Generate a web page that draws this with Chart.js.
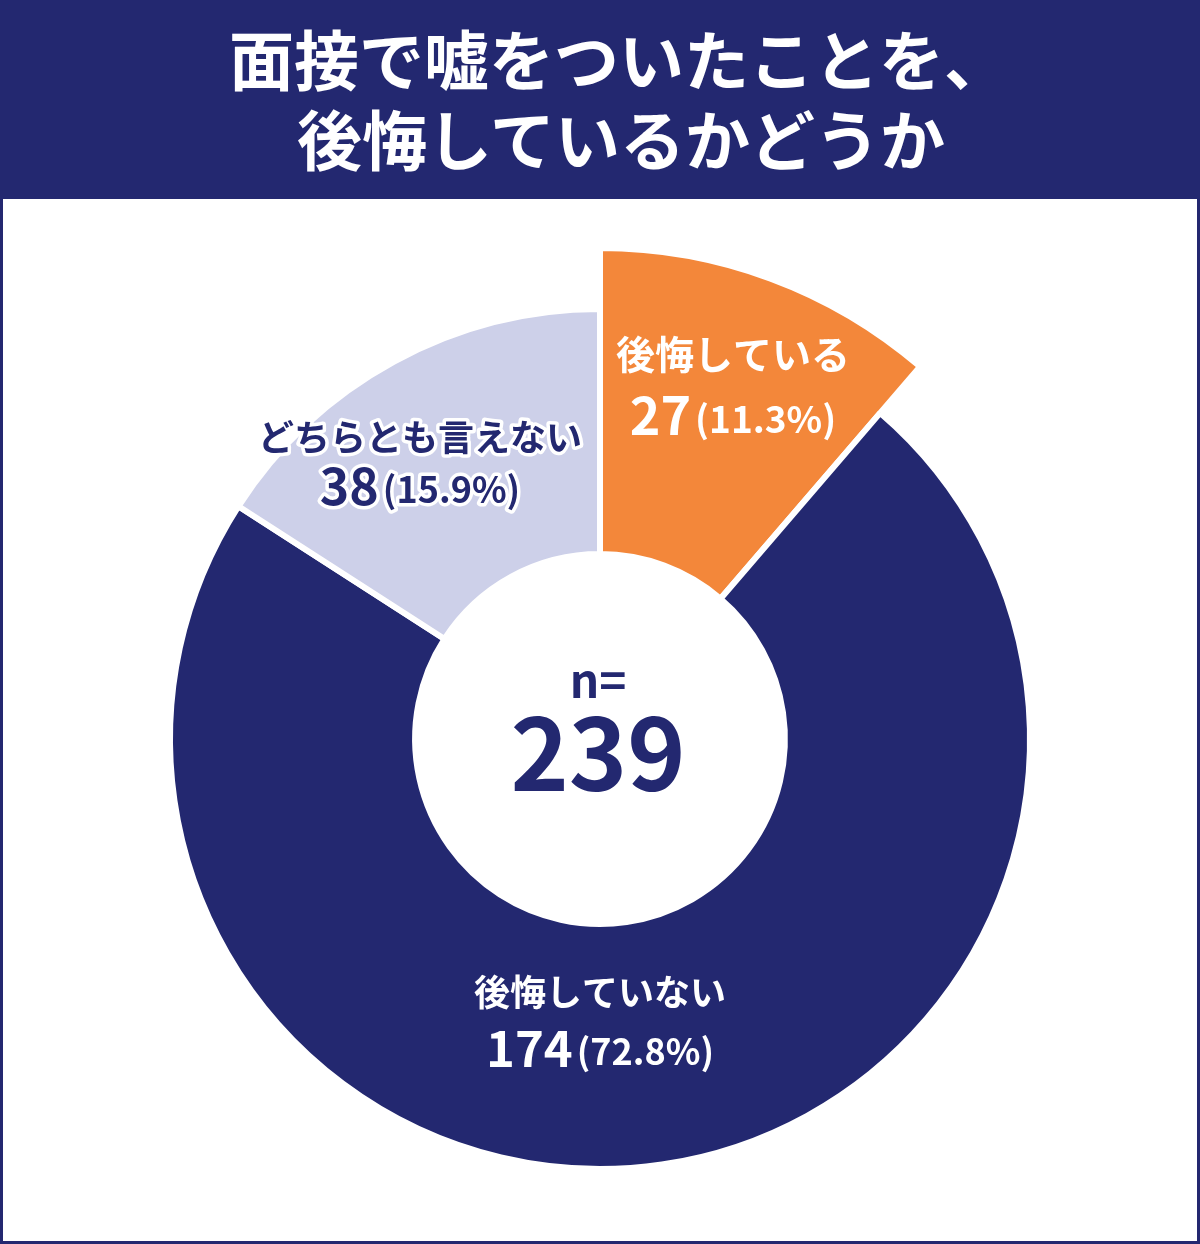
<!DOCTYPE html>
<html lang="ja">
<head>
<meta charset="utf-8">
<title>面接で嘘をついたことを、後悔しているかどうか</title>
<script src="https://cdn.jsdelivr.net/npm/chart.js@4.4.1/dist/chart.umd.min.js"></script>
<style>
  html, body { margin: 0; padding: 0; background: #fff; }
  .frame {
    position: relative; width: 1200px; height: 1244px; box-sizing: border-box;
    border: 3px solid #232870; background: #fff; overflow: hidden;
    font-family: "Noto Sans CJK JP", "Noto Sans", sans-serif;
  }
  .title {
    position: absolute; left: 0; top: 0; width: 100%; height: 196px;
    background: #232870; color: #fff; font-weight: 700; font-size: 65px; line-height: 65px;
  }
  .title div { position: absolute; white-space: nowrap; }
  #donut { position: absolute; left: 0; top: 0; }
</style>
</head>
<body>
<div class="frame">
  <div class="title">
    <div style="left:226px; top:22px;">面接で嘘をついたことを、</div>
    <div style="left:294px; top:102px;">後悔しているかどうか</div>
  </div>
  <canvas id="donut" width="1194" height="1238"></canvas>
</div>
<script>
const categories = ["後悔している", "後悔していない", "どちらとも言えない"];
const counts = [27, 174, 38];
const percents = ["11.3%", "72.8%", "15.9%"];
const sampleSize = "239";

const navy = "#232870";
const sliceColors = ["#F3873A", navy, "#CDD0E9"];
const font = '"Noto Sans CJK JP", "Noto Sans", sans-serif';

// where each label sits, relative to the centre of the ring
const labelSpots = [
  { dx: 133, nameY: -370, valueY: -304, nameSize: 39, numSize: 52, pctSize: 37, color: "#fff" },
  { dx: 0, nameY: 267, valueY: 328, nameSize: 36, numSize: 49, pctSize: 36, color: "#fff" },
  { dx: -180, nameY: -288, valueY: -234, nameSize: 36, numSize: 50, pctSize: 36, color: navy, outline: true },
];

/**
 * The first slice (後悔している) sticks out further than the rest of the ring
 */
const bigSlice = {
  id: "bigSlice",
  afterDatasetsUpdate(chart) {
    const arc = chart.getDatasetMeta(0).data[0];
    arc.outerRadius = arc.outerRadius + 61;
  },
};

/**
 * Draw one line of text, with an optional white outline
 */
function putText(ctx, text, x, y, size, color, outline) {
  ctx.font = `700 ${size}px ${font}`;
  if (outline) {
    ctx.lineWidth = 7;
    ctx.lineJoin = "round";
    ctx.strokeStyle = "#fff";
    ctx.strokeText(text, x, y);
  }
  ctx.fillStyle = color;
  ctx.fillText(text, x, y);
}

const sliceLabels = {
  id: "sliceLabels",
  afterDraw(chart) {
    const ctx = chart.ctx;
    const meta = chart.getDatasetMeta(0);
    const cx = meta.data[0].x;
    const cy = meta.data[0].y;
    ctx.save();
    ctx.textBaseline = "alphabetic";

    categories.forEach((name, i) => {
      const s = labelSpots[i];
      const x = cx + s.dx;
      ctx.textAlign = "center";
      putText(ctx, name, x, cy + s.nameY, s.nameSize, s.color, s.outline);

      // count in large type, share in smaller type, centred together
      const num = String(counts[i]);
      const pct = `(${percents[i]})`;
      ctx.font = `700 ${s.numSize}px ${font}`;
      const w1 = ctx.measureText(num).width;
      ctx.font = `700 ${s.pctSize}px ${font}`;
      const w2 = ctx.measureText(pct).width;
      const gap = 4;
      const left = x - (w1 + gap + w2) / 2;
      ctx.textAlign = "left";
      putText(ctx, num, left, cy + s.valueY, s.numSize, s.color, s.outline);
      putText(ctx, pct, left + w1 + gap, cy + s.valueY - 2, s.pctSize, s.color, s.outline);
    });

    // sample size in the hole
    ctx.textAlign = "center";
    putText(ctx, "n=", cx - 2, cy - 41, 46, navy);
    putText(ctx, sampleSize, cx - 2, cy + 52, 99, navy);
    ctx.restore();
  },
};

new Chart(document.getElementById("donut"), {
  type: "doughnut",
  data: {
    labels: categories,
    datasets: [
      {
        data: counts,
        backgroundColor: sliceColors,
        borderColor: "#fff",
        borderWidth: 6,
        borderAlign: "center",
      },
    ],
  },
  options: {
    responsive: false,
    animation: false,
    events: [],
    cutout: "43%",
    rotation: 0,
    layout: { padding: { left: 164, right: 164, top: 303, bottom: 69 } },
    plugins: {
      legend: { display: false },
      tooltip: { enabled: false },
    },
  },
  plugins: [bigSlice, sliceLabels],
});
</script>
</body>
</html>
